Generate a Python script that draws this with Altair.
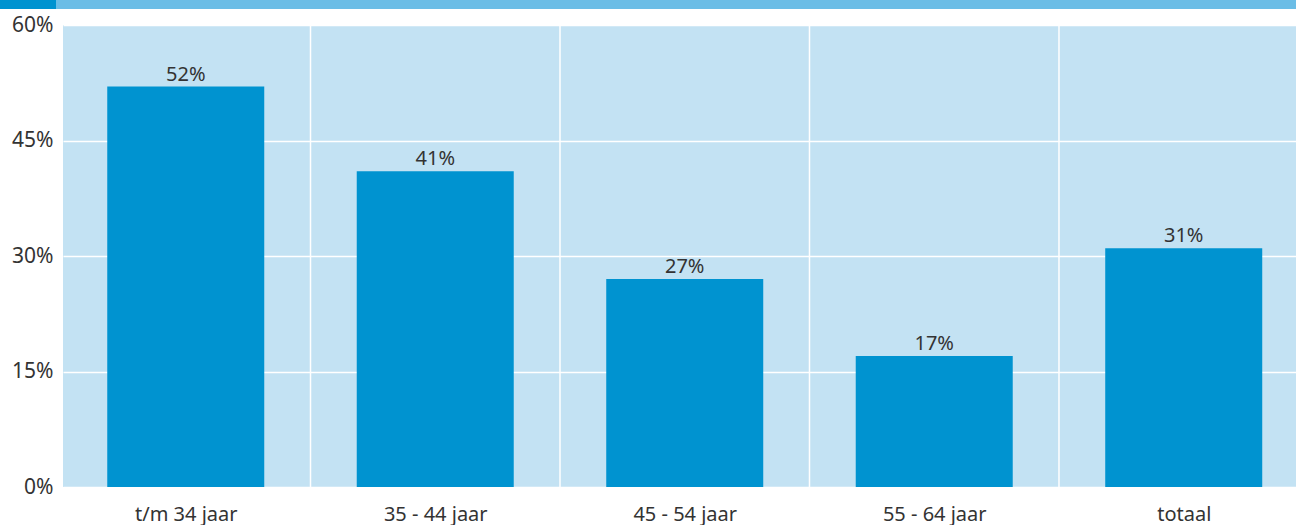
import altair as alt
import pandas as pd

# Share per age group (percent)
categories = ["t/m 34 jaar", "35 - 44 jaar", "45 - 54 jaar", "55 - 64 jaar", "totaal"]
values = [52, 41, 27, 17, 31]
y_ticks = [0, 15, 30, 45, 60]
separators = [0.5, 1.5, 2.5, 3.5]

FONT = "Noto Sans"
TEXT = "#333333"
BAR = "#0093d0"
BG = "#c3e2f3"

df = pd.DataFrame({"idx": list(range(len(categories))), "cat": categories, "val": values})
df["lbl"] = df["val"].astype(str) + "%"
sep_df = pd.DataFrame({"pos": separators})

label_expr = "[" + ",".join(f"'{c}'" for c in categories) + "][round(datum.value)]"

x_scale = alt.Scale(domain=[-0.492, 4.450], nice=False, zero=False, padding=0)
y_scale = alt.Scale(domain=[0, 60], nice=False)

x_enc = alt.X(
    "idx:Q",
    scale=x_scale,
    axis=alt.Axis(
        values=list(range(len(categories))),
        labelExpr=label_expr,
        grid=False,
        domain=False,
        ticks=False,
        title=None,
        labelFont=FONT,
        labelFontSize=20,
        labelColor=TEXT,
        labelPadding=17,
    ),
)

bars = alt.Chart(df).mark_bar(size=157, color=BAR).encode(
    x=x_enc,
    y=alt.Y(
        "val:Q",
        scale=y_scale,
        axis=alt.Axis(
            values=y_ticks,
            labelExpr="datum.value + '%'",
            grid=True,
            gridColor="white",
            gridWidth=1.5,
            domain=False,
            ticks=False,
            title=None,
            labelFont=FONT,
            labelFontSize=21,
            labelColor=TEXT,
            labelPadding=10,
        ),
    ),
)

seps = alt.Chart(sep_df).mark_rule(color="white", strokeWidth=1.5).encode(
    x=alt.X("pos:Q", scale=x_scale),
)

labels = alt.Chart(df).mark_text(
    font=FONT, fontSize=20, color=TEXT, baseline="bottom", dy=-2
).encode(
    x=alt.X("idx:Q", scale=x_scale),
    y=alt.Y("val:Q", scale=y_scale),
    text="lbl:N",
)

# Header band across the top
band_light = alt.Chart(pd.DataFrame({"k": [0]})).mark_rect(color="#6bbde6").encode(
    x=alt.value(-63), x2=alt.value(1240), y=alt.value(-25), y2=alt.value(-16)
)
band_dark = alt.Chart(pd.DataFrame({"k": [0]})).mark_rect(color=BAR).encode(
    x=alt.value(-63), x2=alt.value(-7), y=alt.value(-25), y2=alt.value(-16)
)

chart = alt.layer(seps, bars, labels, band_light, band_dark).properties(
    width=1233,
    height=462,
    autosize=alt.AutoSizeParams(type="none"),
    padding={"left": 63, "top": 25, "right": 0, "bottom": 38},
    background="white",
).configure_view(fill=BG, stroke=None)

chart.save("out.html", embed_options={"renderer": "svg", "actions": False})
